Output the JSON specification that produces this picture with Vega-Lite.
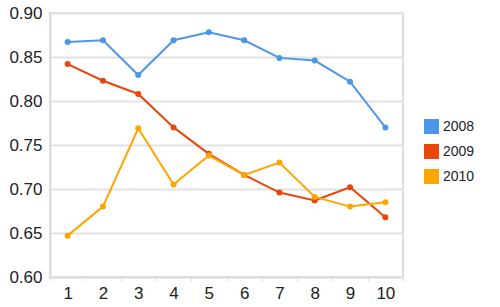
{
  "$schema": "https://vega.github.io/schema/vega-lite/v6.json",
  "width": 353,
  "height": 264,
  "autosize": {"type": "none"},
  "padding": {"left": 50, "top": 13, "right": 97, "bottom": 30},
  "background": "white",
  "config": {
    "font": "Liberation Sans",
    "view": {"stroke": "#dddddd", "strokeWidth": 2},
    "axis": {"labelFont": "Liberation Sans", "labelColor": "#222222", "labelFontSize": 17, "domainColor": "#dddddd", "domainWidth": 2, "gridColor": "#e2e2e2", "gridWidth": 2, "tickColor": "#dddddd"}
  },
  "data": {"values": [
    {"x": 1, "series": "2008", "v": 0.867},
    {"x": 2, "series": "2008", "v": 0.869},
    {"x": 3, "series": "2008", "v": 0.8295},
    {"x": 4, "series": "2008", "v": 0.869},
    {"x": 5, "series": "2008", "v": 0.878},
    {"x": 6, "series": "2008", "v": 0.869},
    {"x": 7, "series": "2008", "v": 0.849},
    {"x": 8, "series": "2008", "v": 0.846},
    {"x": 9, "series": "2008", "v": 0.822},
    {"x": 10, "series": "2008", "v": 0.770},
    {"x": 1, "series": "2009", "v": 0.842},
    {"x": 2, "series": "2009", "v": 0.823},
    {"x": 3, "series": "2009", "v": 0.808},
    {"x": 4, "series": "2009", "v": 0.770},
    {"x": 5, "series": "2009", "v": 0.740},
    {"x": 6, "series": "2009", "v": 0.716},
    {"x": 7, "series": "2009", "v": 0.696},
    {"x": 8, "series": "2009", "v": 0.687},
    {"x": 9, "series": "2009", "v": 0.702},
    {"x": 10, "series": "2009", "v": 0.668},
    {"x": 1, "series": "2010", "v": 0.647},
    {"x": 2, "series": "2010", "v": 0.680},
    {"x": 3, "series": "2010", "v": 0.769},
    {"x": 4, "series": "2010", "v": 0.705},
    {"x": 5, "series": "2010", "v": 0.738},
    {"x": 6, "series": "2010", "v": 0.716},
    {"x": 7, "series": "2010", "v": 0.730},
    {"x": 8, "series": "2010", "v": 0.691},
    {"x": 9, "series": "2010", "v": 0.680},
    {"x": 10, "series": "2010", "v": 0.685}
  ]},
  "mark": {"type": "line", "strokeWidth": 2, "point": {"filled": true, "size": 36, "opacity": 1}},
  "encoding": {
    "x": {
      "field": "x", "type": "ordinal", "bandPosition": 0.5,
      "scale": {"type": "band", "paddingInner": 0, "paddingOuter": 0},
      "axis": {"title": null, "labelAngle": 0, "tickBand": "extent", "tickSize": 4, "labelPadding": 4, "grid": false}
    },
    "y": {
      "field": "v", "type": "quantitative",
      "scale": {"domain": [0.6, 0.9], "nice": false, "zero": false},
      "axis": {"title": null, "values": [0.6, 0.65, 0.7, 0.75, 0.8, 0.85, 0.9], "format": ".2f", "tickSize": 2, "labelPadding": 6, "domain": true}
    },
    "color": {
      "field": "series", "type": "nominal",
      "scale": {"domain": ["2008", "2009", "2010"], "range": ["#4c97e8", "#e8470b", "#ffa500"]},
      "legend": {"title": null, "orient": "none", "legendX": 374, "legendY": 106, "symbolType": "square", "symbolSize": 225, "symbolStrokeWidth": 0, "labelFontSize": 14, "labelColor": "#222222", "rowPadding": 10, "labelOffset": 4}
    }
  }
}
